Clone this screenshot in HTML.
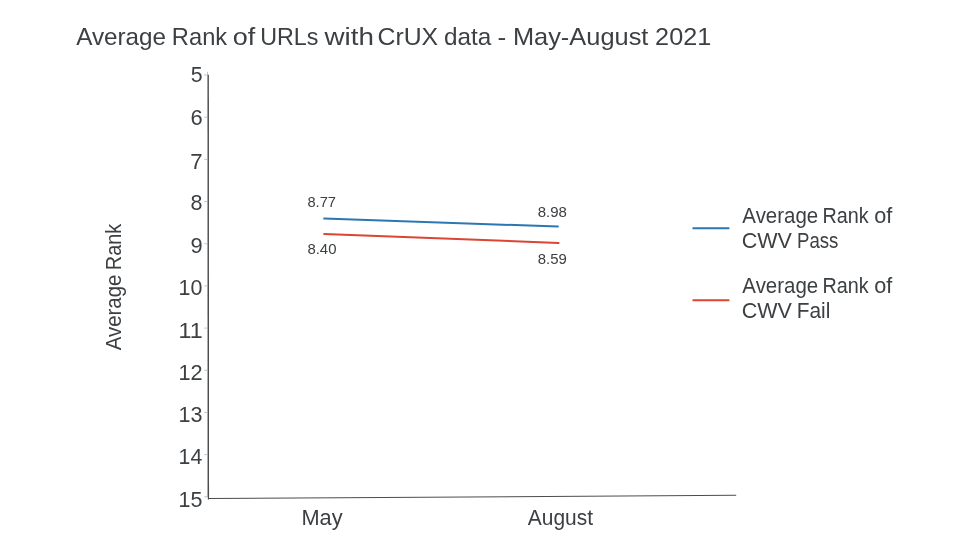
<!DOCTYPE html>
<html>
<head>
<meta charset="utf-8">
<title>Average Rank of URLs with CrUX data - May-August 2021</title>
<style>
  html, body { margin: 0; padding: 0; background: #ffffff; }
  body { width: 960px; height: 540px; overflow: hidden; }
  svg { display: block; will-change: transform; font-family: "Liberation Sans", sans-serif; }
  text { fill: #3c4043; }
</style>
</head>
<body>
<svg width="960" height="540" viewBox="0 0 960 540">
  <rect x="0" y="0" width="960" height="540" fill="#ffffff"/>

  <!-- Title -->
  <g font-size="24.6">
    <text x="76.15" y="44.7" textLength="89.92" lengthAdjust="spacingAndGlyphs">Average</text>
    <text x="171.86" y="44.7" textLength="55.31" lengthAdjust="spacingAndGlyphs">Rank</text>
    <text x="232.67" y="44.7" textLength="22.49" lengthAdjust="spacingAndGlyphs">of</text>
    <text x="260.2" y="44.7" textLength="58.24" lengthAdjust="spacingAndGlyphs">URLs</text>
    <text x="324.54" y="44.7" textLength="49.47" lengthAdjust="spacingAndGlyphs">with</text>
    <text x="377.54" y="44.7" textLength="60.58" lengthAdjust="spacingAndGlyphs">CrUX</text>
    <text x="443.98" y="44.7" textLength="47.32" lengthAdjust="spacingAndGlyphs">data</text>
    <text x="497.64" y="44.7" textLength="8.73" lengthAdjust="spacingAndGlyphs">-</text>
    <text x="512.92" y="44.7" textLength="135.47" lengthAdjust="spacingAndGlyphs">May-August</text>
    <text x="655.13" y="44.7" textLength="56.1" lengthAdjust="spacingAndGlyphs">2021</text>
  </g>

  <!-- Y axis tick labels -->
  <g font-size="22.5">
    <text x="190.65" y="82.3" textLength="11.85" lengthAdjust="spacingAndGlyphs">5</text>
    <text x="190.39" y="125.2" textLength="12.17" lengthAdjust="spacingAndGlyphs">6</text>
    <text x="190.36" y="168.5" textLength="12.36" lengthAdjust="spacingAndGlyphs">7</text>
    <text x="190.56" y="210.2" textLength="11.97" lengthAdjust="spacingAndGlyphs">8</text>
    <text x="190.48" y="252.5" textLength="12.16" lengthAdjust="spacingAndGlyphs">9</text>
    <text x="178.57" y="294.7" textLength="23.87" lengthAdjust="spacingAndGlyphs">10</text>
    <text x="178.55" y="337.5" textLength="24.11" lengthAdjust="spacingAndGlyphs">11</text>
    <text x="178.55" y="380.0" textLength="24.15" lengthAdjust="spacingAndGlyphs">12</text>
    <text x="178.56" y="422.0" textLength="23.99" lengthAdjust="spacingAndGlyphs">13</text>
    <text x="178.58" y="464.0" textLength="23.64" lengthAdjust="spacingAndGlyphs">14</text>
    <text x="178.56" y="506.5" textLength="23.94" lengthAdjust="spacingAndGlyphs">15</text>
  </g>

  <!-- tick marks -->
  <g stroke="#c4c4c4" stroke-width="1">
    <line x1="207.5" x2="207.5" y1="71.8" y2="497"/>
    <line x1="204.2" x2="208" y1="75.00" y2="75.00"/>
    <line x1="204.2" x2="208" y1="117.18" y2="117.18"/>
    <line x1="204.2" x2="208" y1="159.36" y2="159.36"/>
    <line x1="204.2" x2="208" y1="201.54" y2="201.54"/>
    <line x1="204.2" x2="208" y1="243.72" y2="243.72"/>
    <line x1="204.2" x2="208" y1="285.90" y2="285.90"/>
    <line x1="204.2" x2="208" y1="328.08" y2="328.08"/>
    <line x1="204.2" x2="208" y1="370.26" y2="370.26"/>
    <line x1="204.2" x2="208" y1="412.44" y2="412.44"/>
    <line x1="204.2" x2="208" y1="454.62" y2="454.62"/>
    <line x1="204.2" x2="208" y1="496.80" y2="496.80"/>
  </g>

  <!-- Axes -->
  <line x1="208.3" y1="74.7" x2="208.45" y2="499.6" stroke="#4d4d4f" stroke-width="1.2"/>
  <line x1="208" y1="498.5" x2="736.2" y2="495.3" stroke="#4d4d4f" stroke-width="1.05"/>

  <!-- Y axis title -->
  <g transform="translate(121.0 350.3) rotate(-90)" font-size="21.5">
    <text x="-0.04" y="0" textLength="75.74" lengthAdjust="spacingAndGlyphs">Average</text>
    <text x="80.17" y="0" textLength="46.4" lengthAdjust="spacingAndGlyphs">Rank</text>
  </g>

  <!-- X axis labels -->
  <g font-size="21.5">
    <text x="301.41" y="524.8" textLength="41.13" lengthAdjust="spacingAndGlyphs">May</text>
    <text x="527.86" y="524.8" textLength="65.19" lengthAdjust="spacingAndGlyphs">August</text>
  </g>

  <!-- Data lines -->
  <line x1="324.2" y1="218.6" x2="557.9" y2="226.5" stroke="#2a77b3" stroke-width="2" stroke-linecap="round"/>
  <line x1="324.2" y1="233.9" x2="558.6" y2="243.0" stroke="#da4534" stroke-width="2" stroke-linecap="round"/>

  <!-- Data labels -->
  <g font-size="14.2">
    <text x="307.46" y="206.8" textLength="28.58" lengthAdjust="spacingAndGlyphs">8.77</text>
    <text x="307.45" y="253.9" textLength="29.03" lengthAdjust="spacingAndGlyphs">8.40</text>
    <text x="537.75" y="216.8" textLength="29.2" lengthAdjust="spacingAndGlyphs">8.98</text>
    <text x="537.75" y="263.8" textLength="29.06" lengthAdjust="spacingAndGlyphs">8.59</text>
  </g>

  <!-- Legend -->
  <line x1="692.5" y1="228.3" x2="729.4" y2="228.3" stroke="#2a77b3" stroke-width="2.1"/>
  <line x1="692.5" y1="300.3" x2="729.4" y2="300.3" stroke="#da4534" stroke-width="2.1"/>
  <g font-size="21.5">
    <text x="742.36" y="222.6" textLength="75.84" lengthAdjust="spacingAndGlyphs">Average</text>
    <text x="822.38" y="222.6" textLength="46.19" lengthAdjust="spacingAndGlyphs">Rank</text>
    <text x="874.29" y="222.6" textLength="18.08" lengthAdjust="spacingAndGlyphs">of</text>
    <text x="741.71" y="247.6" textLength="50.19" lengthAdjust="spacingAndGlyphs">CWV</text>
    <text x="796.97" y="247.6" textLength="41.4" lengthAdjust="spacingAndGlyphs">Pass</text>
    <text x="742.36" y="292.6" textLength="75.84" lengthAdjust="spacingAndGlyphs">Average</text>
    <text x="822.38" y="292.6" textLength="46.19" lengthAdjust="spacingAndGlyphs">Rank</text>
    <text x="874.29" y="292.6" textLength="18.08" lengthAdjust="spacingAndGlyphs">of</text>
    <text x="741.71" y="317.6" textLength="50.19" lengthAdjust="spacingAndGlyphs">CWV</text>
    <text x="796.79" y="317.6" textLength="33.61" lengthAdjust="spacingAndGlyphs">Fail</text>
  </g>
</svg>
</body>
</html>
